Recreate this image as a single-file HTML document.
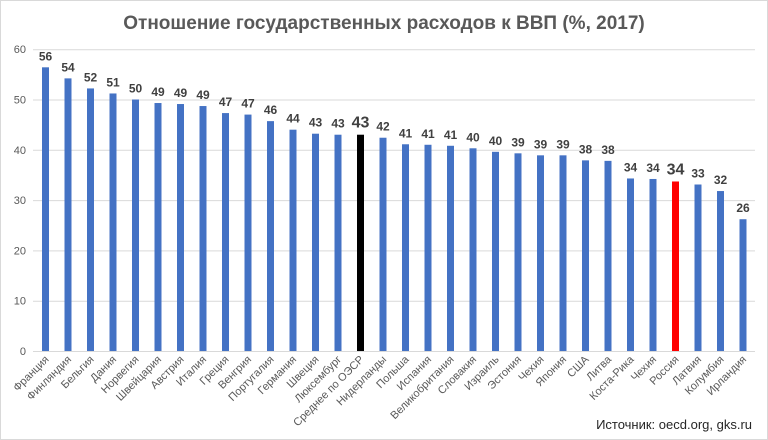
<!DOCTYPE html>
<html><head><meta charset="utf-8"><style>
html,body{margin:0;padding:0;background:#fff}
svg{display:block}
text{font-family:"Liberation Sans",sans-serif}
</style></head><body>
<svg width="768" height="440" viewBox="0 0 768 440" xmlns="http://www.w3.org/2000/svg">
<rect x="0.5" y="0.5" width="767" height="439" fill="#fff" stroke="#d9d9d9"/>
<text x="384" y="29" text-anchor="middle" font-size="19" font-weight="bold" fill="#595959">Отношение государственных расходов к ВВП (%, 2017)</text>
<g id="grid" stroke="#d9d9d9" stroke-width="1"></g>
<g id="ylab" font-size="11" fill="#595959" text-anchor="end"></g>
<g id="bars"></g>
<g id="vals" font-size="12" font-weight="bold" fill="#404040" text-anchor="middle"></g>
<g id="xlab" font-size="11" fill="#595959" text-anchor="end"></g>
<text x="752" y="429" text-anchor="end" font-size="13" fill="#262626">Источник: oecd.org, gks.ru</text>
</svg>
<script>
var ns="http://www.w3.org/2000/svg";
function el(p,t,a,txt){var e=document.createElementNS(ns,t);for(var k in a)e.setAttribute(k,a[k]);if(txt!==undefined)e.textContent=txt;document.getElementById(p).appendChild(e);}
var y0=351,s=5.03;
for(var v=0;v<=60;v+=10){var y=y0-v*s;el("grid","line",{x1:33,x2:755,y1:y+0.5,y2:y+0.5});el("ylab","text",{x:26,y:y+4},v);}
var d=[["Франция",56.4],["Финляндия",54.2],["Бельгия",52.2],["Дания",51.2],["Норвегия",50.0],["Швейцария",49.3],["Австрия",49.1],["Италия",48.7],["Греция",47.3],["Венгрия",47.0],["Португалия",45.7],["Германия",44.0],["Швеция",43.2],["Люксембург",43.0],["Среднее по ОЭСР",43.0],["Нидерланды",42.4],["Польша",41.1],["Испания",41.0],["Великобритания",40.8],["Словакия",40.3],["Израиль",39.6],["Эстония",39.3],["Чехия",38.9],["Япония",38.9],["США",37.9],["Литва",37.8],["Коста-Рика",34.3],["Чехия",34.2],["Россия",33.7],["Латвия",33.1],["Колумбия",31.8],["Ирландия",26.2]];
d.forEach(function(r,i){var cx=45.5+i*22.5,h=r[1]*s;
var c=i==14?"#000":(i==28?"#ff0000":"#4472c4");
el("bars","rect",{x:cx-3.5,y:y0-h,width:7,height:h,fill:c});
var big=(i==14||i==28);
el("vals","text",{x:cx,y:y0-h-7,"font-size":big?16:12},Math.round(r[1]));
el("xlab","text",{x:cx+4,y:360,transform:"rotate(-45 "+(cx+4)+" 360)"},r[0]);
});
</script>
</body></html>
